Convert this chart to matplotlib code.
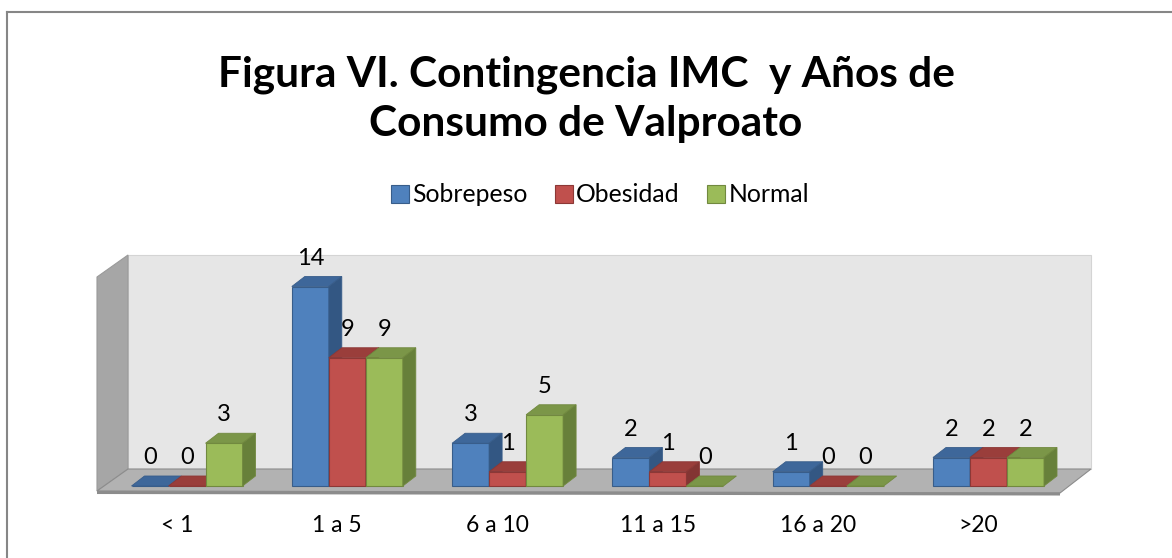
import numpy as np
import matplotlib.pyplot as plt
from matplotlib.patches import Polygon
from matplotlib.lines import Line2D

# data
categories = ["< 1", "1 a 5", "6 a 10", "11 a 15", "16 a 20", ">20"]
series = ["Sobrepeso", "Obesidad", "Normal"]
sobrepeso = [0, 14, 3, 2, 1, 2]
obesidad = [0, 9, 1, 1, 0, 2]
normal = [3, 9, 5, 0, 0, 2]
values = [sobrepeso, obesidad, normal]

front_cols = ["#4F81BD", "#C0504D", "#9BBB59"]
top_cols = ["#3E679A", "#9A3E3B", "#7B9648"]
side_cols = ["#335783", "#833533", "#67803A"]
edge_cols = ["#385D8A", "#8C3836", "#71893F"]

plt.rcParams['font.family'] = ['Lato', 'DejaVu Sans']

W, H = 1172, 558
fig = plt.figure(figsize=(W / 100, H / 100), dpi=100)

# pixel layout of the plot area
px_x0, px_step = 177, 160.3      # category label centres
px_y0, px_unit = 486, 14.25      # value 0 and pixels per unit
ax_l, ax_r, ax_t, ax_b = 90, 1100, 240, 500

ax = fig.add_axes([ax_l / W, 1 - ax_b / H, (ax_r - ax_l) / W, (ax_b - ax_t) / H])
ax.set_xlim((ax_l - px_x0) / px_step, (ax_r - px_x0) / px_step)
ax.set_ylim((px_y0 - ax_b) / px_unit, (px_y0 - ax_t) / px_unit)

def dx(p):
    return p / px_step

def dy(p):
    return p / px_unit

def X(px):
    return (px - px_x0) / px_step

def Y(py):
    return (px_y0 - py) / px_unit

# walls and floor
back = Polygon([(X(128), Y(469)), (X(1091), Y(469)), (X(1091), Y(255)), (X(128), Y(255))],
               closed=True, fc="#E6E6E6", ec="#D4D4D4", lw=0.8, zorder=0)
left = Polygon([(X(97), Y(277)), (X(128), Y(255)), (X(128), Y(469)), (X(97), Y(491))],
               closed=True, fc="#A6A6A6", ec="#9A9A9A", lw=0.8, zorder=0)
floor = Polygon([(X(97), Y(491)), (X(1060), Y(493)), (X(1091), Y(469)), (X(128), Y(469))],
                closed=True, fc="#B2B2B2", ec="#8C8C8C", lw=0.8, zorder=1)
ax.add_patch(back)
ax.add_patch(left)
ax.add_patch(floor)
ax.plot([X(97), X(1060)], [Y(492.5), Y(494)], color="#8C8C8C", lw=2.2, zorder=1,
        solid_capstyle="butt")

# bars
w = 37 / px_step
off = 10 / px_step
ddx, ddy = dx(13), dy(10)
x = np.arange(len(categories))
handles = []
for i in range(len(categories)):
    for j in range(len(series)):
        v = values[j][i]
        xc = x[i] + off + (j - 1) * w
        x0, x1 = xc - w / 2, xc + w / 2
        z = 2 + i * 3 + j
        b = ax.bar(xc, v, width=w, color=front_cols[j], edgecolor=edge_cols[j],
                   linewidth=0.8, zorder=z, label=series[j] if i == 0 else None)
        if i == 0:
            handles.append(b)
        top = Polygon([(x0, v), (x1, v), (x1 + ddx, v + ddy), (x0 + ddx, v + ddy)],
                      closed=True, fc=top_cols[j], ec=edge_cols[j], lw=0.6, zorder=z)
        ax.add_patch(top)
        if v > 0:
            side = Polygon([(x1, 0), (x1, v), (x1 + ddx, v + ddy), (x1 + ddx, ddy)],
                           closed=True, fc=side_cols[j], ec=edge_cols[j], lw=0.6, zorder=z)
            ax.add_patch(side)
        ax.text(xc, v + 2.0, str(v), ha="center", va="center", fontsize=17,
                color="black", zorder=30)

ax.set_xticks(x)
ax.set_xticklabels(categories, fontsize=16.5)
ax.tick_params(axis="x", length=0, pad=11)
ax.set_yticks([])
for s in ax.spines.values():
    s.set_visible(False)
ax.patch.set_alpha(0)

# title and legend
fig.text(586 / W, 1 - 99 / H, "Figura VI. Contingencia IMC  y Años de\nConsumo de Valproato",
         ha="center", va="center", fontsize=30.5, fontweight="bold", linespacing=1.36)
fig.legend(handles=handles, labels=series, loc="center", bbox_to_anchor=(600 / W, 1 - 195 / H),
           ncol=3, frameon=False, fontsize=17.8, handlelength=0.72, handleheight=0.72,
           handletextpad=0.15, columnspacing=1.1)

# outer frame
fig.add_artist(Line2D([7 / W, 7 / W], [0, 1 - 12 / H], color="#868686", lw=1.5))
fig.add_artist(Line2D([7 / W, 1], [1 - 12 / H, 1 - 12 / H], color="#868686", lw=1.5))

fig.savefig("out.png", dpi=100)
